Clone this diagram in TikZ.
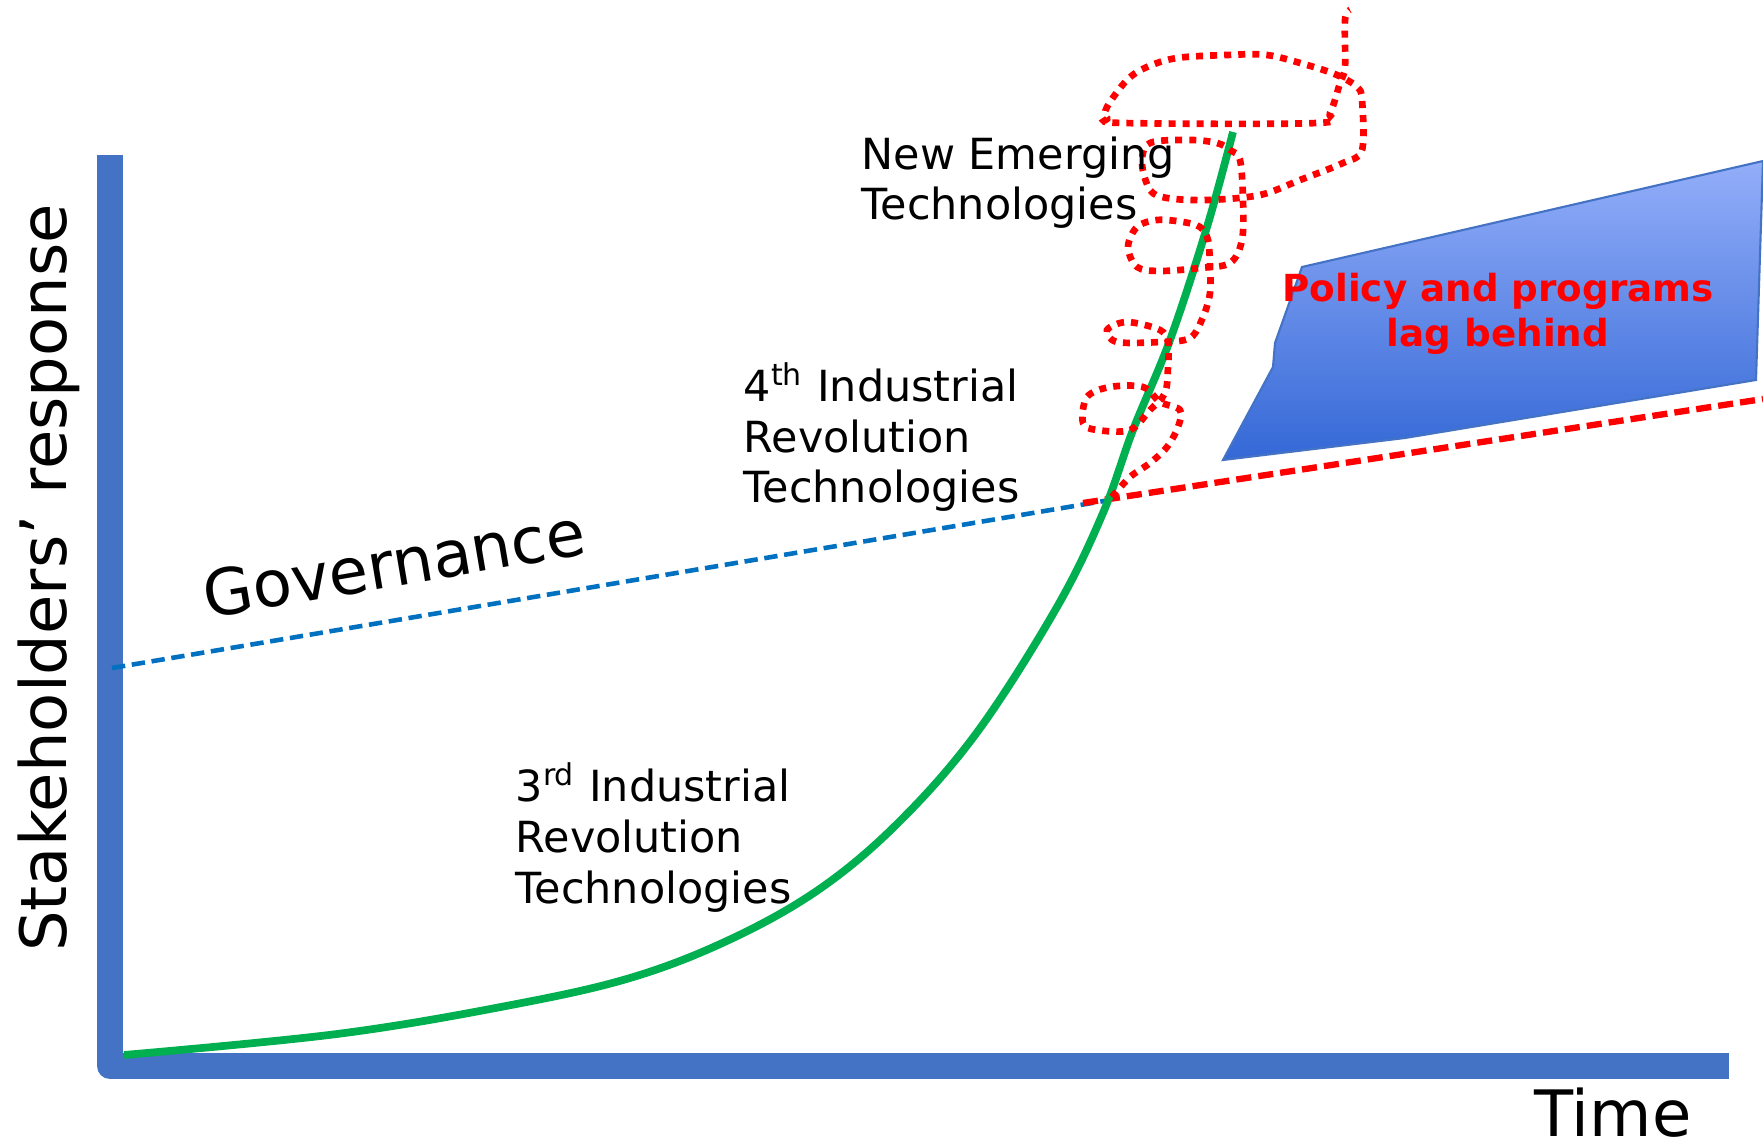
\documentclass[tikz,border=0pt]{standalone}
\usepackage{fontspec}
\setmainfont{DejaVu Sans}
\definecolor{axisblue}{HTML}{4472C4}
\definecolor{growthgreen}{HTML}{00B050}
\definecolor{govblue}{HTML}{0070C0}
\definecolor{bandtop}{HTML}{93AEF9}
\definecolor{bandbottom}{HTML}{3468D6}

\begin{document}
\begin{tikzpicture}[x=0.01cm, y=-0.01cm,
        techlabel/.style={anchor=base west, align=left, inner sep=0pt, font=\fontsize{12.2}{14.5}\selectfont},
        biglabel/.style={inner sep=0pt, font=\fontsize{18.2}{22}\selectfont},
        squiggle/.style={red, line width=1.9pt, dash pattern=on 2pt off 2pt}]
        \useasboundingbox (0,0) rectangle (1763,1146);
        \fill[white] (0,0) rectangle (1763,1146);

        \coordinate (origin) at (110,1066);
        \coordinate (ytop) at (110,155);
        \coordinate (xend) at (1729,1066);
        \coordinate (govstart) at (112,668);
        \coordinate (cross) at (1110,500);
        \coordinate (lagstart) at (1083,503);
        \coordinate (lagend) at (1763,399);

        \draw[axisblue, line width=0.6pt, top color=bandtop, bottom color=bandbottom] (1223,460) -- (1273,367) -- (1275,343) -- (1302,267) -- (1763,161) -- (1756,380) -- (1405,438) -- cycle;

        \draw[axisblue, line width=7.4pt, line join=round] (ytop) -- (origin) -- (xend);

        \draw[govblue, line width=1.3pt, dash pattern=on 3.8pt off 1.9pt] (govstart) -- (cross);
        \draw[red, line width=1.8pt, dash pattern=on 4.3pt off 2pt] (lagstart) -- (lagend);

        \draw[growthgreen, line width=2.2pt] plot[smooth, tension=0.6] coordinates {(124,1055) (337,1034) (506,1006) (630,978) (731,939) (821,888) (900,821) (978,731) (1057,607) (1103,513) (1133,430) (1170,340) (1207,227) (1233,132)};

        \draw[squiggle] plot[smooth, tension=0.55] coordinates {(1112,497) (1130,477) (1150,463) (1167,447) (1178,427) (1180,410) (1160,402) (1143,387) (1110,387) (1087,397) (1083,423) (1097,430) (1130,430) (1150,410) (1165,393) (1168,367) (1168,343) (1160,330) (1127,322) (1107,330) (1117,342) (1160,342) (1190,338) (1203,317) (1210,293) (1210,267) (1208,240) (1200,227) (1183,222) (1157,220) (1137,227) (1128,247) (1137,267) (1160,271) (1200,268) (1230,263) (1242,240) (1243,200) (1240,160) (1230,150) (1217,143) (1190,140) (1150,143) (1142,163) (1150,190) (1167,198) (1207,200) (1260,195) (1300,180) (1343,163) (1362,150) (1362,100) (1357,87) (1337,75) (1307,65) (1267,55) (1227,55) (1177,58) (1147,67) (1127,80) (1107,107) (1107,118) (1123,123) (1317,123) (1330,113) (1340,83) (1345,67) (1345,20) (1350,10)};

        \node[techlabel] (newtech) at (861,220) {New Emerging\\Technologies};
        \node[techlabel] (fourthtech) at (743,503) {4\textsuperscript{th} Industrial\\Revolution\\Technologies};
        \node[techlabel] (thirdtech) at (515,903) {3\textsuperscript{rd} Industrial\\Revolution\\Technologies};

        \node[inner sep=0pt, anchor=base, align=center, text=red, font=\bfseries\fontsize{10.6}{12.8}\selectfont] (lag) at (1498,347) {Policy and programs\\lag behind};

        \node[biglabel, anchor=base, rotate=9.6] (governance) at (398,586) {Governance};
        \node[biglabel, anchor=base, rotate=90] (response) at (67,578) {Stakeholders’ response};
        \node[biglabel, anchor=base west] (time) at (1534,1136) {Time};
\end{tikzpicture}
\end{document}
